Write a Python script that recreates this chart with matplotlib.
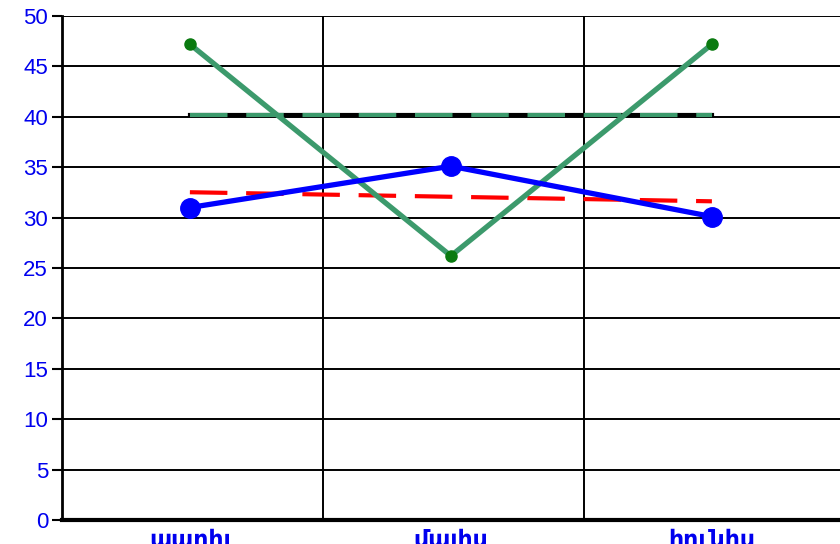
import numpy as np
import matplotlib.pyplot as plt

plt.rcParams['font.family'] = ['Liberation Sans', 'DejaVu Sans']

# ===== 데이터 =====
months = ['ապրիլ', 'մայիս', 'հունիս']
blue_vals = [31.0, 35.1, 30.1]
green_vals = [47.2, 26.2, 47.2]

x = np.arange(len(months)) + 0.49

# 추세선 (선형 회귀)
blue_fit = np.polyval(np.polyfit(x, blue_vals, 1), x)
green_fit = np.polyval(np.polyfit(x, green_vals, 1), x)

fig = plt.figure(figsize=(8.4, 5.44), dpi=100)
ax = fig.add_axes([62 / 840, 24 / 544, 783 / 840, 504 / 544])

ax.set_xlim(0, 3)
ax.set_ylim(0, 50)

# 격자
for yv in np.arange(5, 51, 5):
    ax.axhline(yv, color='black', lw=1.4, zorder=1)
for xv in [1, 2, 3]:
    ax.axvline(xv, color='black', lw=1.4, zorder=1)

# 추세선
ax.plot(x, blue_fit, color='red', lw=3, dashes=(9, 4.5), zorder=3)
ax.plot(x, green_fit, color='black', lw=3, zorder=3)
ax.plot(x, green_fit, color='#3C9A6C', lw=3, dashes=(9, 4.5), zorder=3)

# 데이터 선
ax.plot(x, green_vals, color='#3C9A6C', lw=3.8, zorder=4)
ax.plot(x, green_vals, 'o', color='#0A7A10', ms=8, zorder=5)
ax.plot(x, blue_vals, color='#0000FF', lw=3.8, marker='o', ms=14, zorder=6)

ax.set_yticks(np.arange(0, 51, 5))
ax.set_xticks(x)
ax.set_xticklabels(months, color='#0000EE', fontsize=17, fontweight='bold')
ax.tick_params(axis='x', length=0, pad=6)
ax.tick_params(axis='y', direction='out', length=7, width=1.5,
               labelcolor='#0000EE', labelsize=16, pad=3)

for side in ['top', 'right']:
    ax.spines[side].set_visible(False)
ax.spines['left'].set_linewidth(2)
ax.spines['bottom'].set_linewidth(3)

fig.savefig('out.png', dpi=100)
